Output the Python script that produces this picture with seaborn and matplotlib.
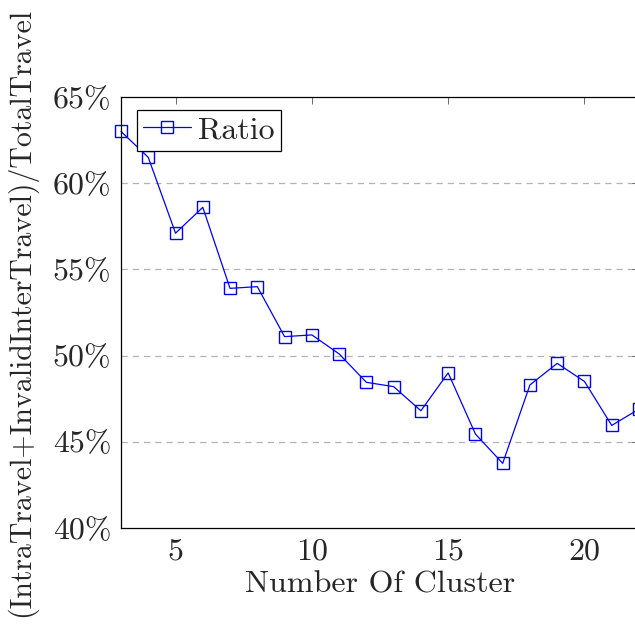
import matplotlib
matplotlib.use("Agg")
import matplotlib.pyplot as plt
import seaborn as sns
import pandas as pd
from matplotlib.ticker import FuncFormatter, MultipleLocator

clusters = list(range(3, 23))
ratio = [63.0, 61.5, 57.1, 58.6, 53.9, 54.0, 51.1, 51.2, 50.1, 48.45,
         48.2, 46.8, 49.0, 45.45, 43.75, 48.3, 49.55, 48.5, 45.95, 46.9]

df = pd.DataFrame({"clusters": clusters, "ratio": ratio})

sns.set_style("white")
plt.rcParams["font.family"] = ["cmr10", "DejaVu Serif"]
plt.rcParams["mathtext.fontset"] = "cm"
plt.rcParams["axes.formatter.use_mathtext"] = True

fig = plt.figure(figsize=(6.35, 6.26), dpi=100)
ax = fig.add_axes([121 / 635, 98 / 626, 518 / 635, 431 / 626])

sns.lineplot(data=df, x="clusters", y="ratio", ax=ax, color="blue",
             marker="s", markersize=8, markerfacecolor="none",
             markeredgecolor="blue", markeredgewidth=1.0, linewidth=0.9,
             label="Ratio", clip_on=False)

ax.set_xlim(3, 22)
ax.set_ylim(40, 65)
ax.xaxis.set_major_locator(MultipleLocator(5))
ax.yaxis.set_major_locator(MultipleLocator(5))
ax.yaxis.set_major_formatter(FuncFormatter(lambda v, p: f"{v:.0f}%"))

for y in [45, 50, 55, 60]:
    ax.axhline(y, color="#b3b3b3", linestyle=(0, (5, 4)), linewidth=0.9, zorder=0)

for s in ax.spines.values():
    s.set_color("black")
    s.set_linewidth(0.9)

ax.tick_params(direction="in", top=True, right=True, length=5, width=0.6,
               color="#555555", labelsize=23, pad=7)

ax.set_xlabel("Number Of Cluster", fontsize=23, labelpad=4)
ax.set_ylabel("(IntraTravel+InvalidInterTravel)/TotalTravel", fontsize=21.5)
ax.yaxis.set_label_coords(-0.162, 0.50)

leg = ax.legend(loc="upper left", fontsize=23, frameon=True, fancybox=False,
                edgecolor="black", borderpad=0.2, handlelength=1.5,
                handletextpad=0.2, borderaxespad=0,
                bbox_to_anchor=(0.031, 0.970))
leg.get_frame().set_linewidth(0.9)
leg.get_frame().set_alpha(1)

fig.savefig("out.png", dpi=100)
